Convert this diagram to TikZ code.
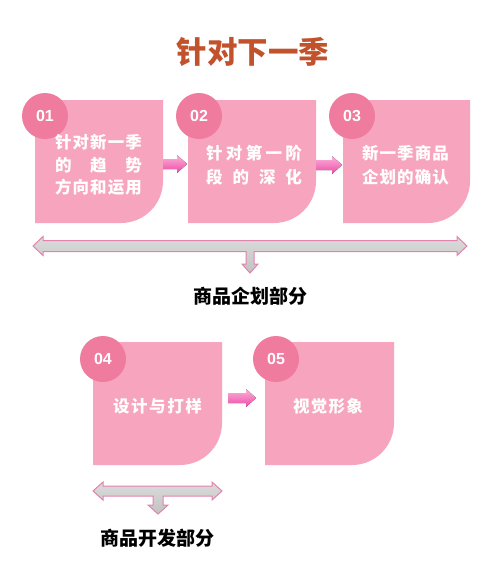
\documentclass[tikz,border=0pt]{standalone}
\usepackage{fontspec}
\newfontfamily\cjk{Noto Sans CJK SC}
\newfontfamily\numf{Liberation Sans}
\definecolor{boxfill}{HTML}{F7A5BE}
\definecolor{circfill}{HTML}{EF7B9E}
\definecolor{titlec}{HTML}{C2522C}
\definecolor{arrline}{HTML}{E283AE}
\definecolor{arrA}{HTML}{FBB2D9}
\definecolor{arrB}{HTML}{EC4AA6}
\tikzset{
  numc/.style={circle,fill=circfill,minimum size=46pt,inner sep=0pt,text=white,
    font=\numf\bfseries\fontsize{16}{16}\selectfont},
  boxtxt/.style={align=center,inner sep=0pt,text=white,
    font=\cjk\bfseries\fontsize{16.5}{24.5}\selectfont},
  lbl/.style={inner sep=0pt,font=\cjk\bfseries\fontsize{19}{20}\selectfont},
  pinkarrow/.style={top color=arrA,bottom color=arrB},
  grayarrow/.style={draw=arrline,line width=1pt,top color=gray!28,bottom color=gray!48,line join=miter}
}
\newcommand\pbox[4]{%
  \fill[boxfill] (#1,{(#2+#4)/2}) [rounded corners=30pt] -- (#1,#2) [sharp corners] -- (#3,#2) -- ({#3},{(#2+#4)/2}) [rounded corners=42pt] -- (#3,#4) [sharp corners] -- (#1,#4) -- cycle;}
\newcommand\rarr[3]{%
  \fill[pinkarrow] (#1,{#3-5}) -- ({#2-10},{#3-5}) -- ({#2-10},{#3-9}) -- (#2,#3) -- ({#2-10},{#3+9}) -- ({#2-10},{#3+5}) -- (#1,{#3+5}) -- cycle;}
\newcommand\sline[2]{\makebox[#1][s]{#2}}
\newcommand\hf{\hfill}
\begin{document}
\begin{tikzpicture}[x=1pt,y=-1pt]
\useasboundingbox (0,0) rectangle (499,581);
\fill[white] (0,0) rectangle (499,581);
% title
\node[inner sep=0pt,text=titlec,font=\cjk\bfseries\fontsize{30.5}{31}\selectfont] (title) at (253,52) {针对下一季};
% row 1 boxes
\pbox{35}{100}{163}{223}
\pbox{188}{100}{316}{223}
\pbox{343}{100}{470}{223}
\node[numc] (c1) at (45,116) {01};
\node[numc] (c2) at (199,116) {02};
\node[numc] (c3) at (352,116) {03};
\node[boxtxt,font=\cjk\bfseries\fontsize{16.5}{22.5}\selectfont] (t1) at (98.5,165) {\sline{87pt}{针\hf{}对\hf{}新\hf{}一\hf{}季}\\\sline{87pt}{的\hf{}趋\hf{}势}\\\sline{87pt}{方\hf{}向\hf{}和\hf{}运\hf{}用}};
\node[boxtxt] (t2) at (254,165) {\sline{96pt}{针\hf{}对\hf{}第\hf{}一\hf{}阶}\\\sline{96pt}{段\hf{}的\hf{}深\hf{}化}};
\node[boxtxt] (t3) at (405.5,165) {\sline{87pt}{新\hf{}一\hf{}季\hf{}商\hf{}品}\\\sline{87pt}{企\hf{}划\hf{}的\hf{}确\hf{}认}};
\rarr{163}{187}{164}
\rarr{316}{342}{165}
% big T arrow
\path[grayarrow] (33,246) -- (43,236.5) -- (43,240.5) -- (457,240.5) -- (457,236.5) -- (467,246) -- (457,255.5) -- (457,251.5) -- (254,251.5) -- (254,264) -- (258,264) -- (250,273) -- (242,264) -- (246,264) -- (246,251.5) -- (43,251.5) -- (43,255.5) -- cycle;
\node[lbl] (l1) at (250,296) {商品企划部分};
% row 2
\pbox{93}{342}{222}{465}
\pbox{265}{342}{394}{465}
\node[numc] (c4) at (103,359) {04};
\node[numc] (c5) at (276,359) {05};
\node[boxtxt] (t4) at (157.5,406) {\sline{89pt}{设\hf{}计\hf{}与\hf{}打\hf{}样}};
\node[boxtxt] (t5) at (328,406) {\sline{70pt}{视\hf{}觉\hf{}形\hf{}象}};
\rarr{228}{256}{398}
% small T arrow
\path[grayarrow] (93,491) -- (103,482) -- (103,486) -- (212,486) -- (212,482) -- (222,491) -- (212,500) -- (212,496) -- (163,496) -- (163,505) -- (168,505) -- (158,514) -- (148,505) -- (153,505) -- (153,496) -- (103,496) -- (103,500) -- cycle;
\node[lbl] (l2) at (157,538) {商品开发部分};
\end{tikzpicture}
\end{document}
